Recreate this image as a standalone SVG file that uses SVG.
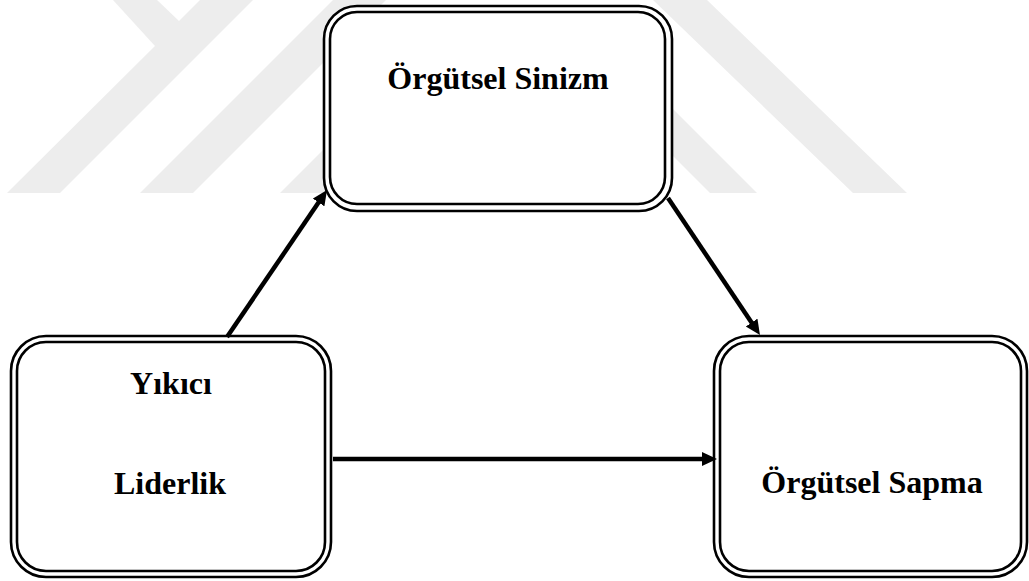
<svg xmlns="http://www.w3.org/2000/svg" width="1029" height="581" viewBox="0 0 1029 581">
  <style>
    .wm { fill: #ededed; }
    .outer, .inner { fill: none; stroke: #000; stroke-width: 2.6; }
    .bg { fill: #fff; }
    .lbl { font-family: "Liberation Serif", "Times New Roman", serif; font-weight: bold; font-size: 32px; fill: #000; text-anchor: middle; }
    .conn { stroke: #000; stroke-width: 4.5; fill: none; marker-end: url(#arrow); }
  </style>
  <defs>
    <marker id="arrow" markerUnits="userSpaceOnUse" markerWidth="16" markerHeight="15" refX="5" refY="7" orient="auto">
      <path d="M0,0 L15,7 L0,14 z" fill="#000"/>
    </marker>
  </defs>
  <rect width="1029" height="581" fill="#fff"/>
  <g id="watermark">
    <polygon class="wm" points="113,0 157,0 179,21 200,0 253,0 60,193 7,193 155,46"/>
    <polygon class="wm" points="333,0 386,0 193,193 140,193"/>
    <polygon class="wm" points="420,53 480,53 337,193 280,193"/>
    <polygon class="wm" points="653,0 707,0 907,193 853,193"/>
    <polygon class="wm" points="577,60 624,60 757,193 710,193"/>
  </g>
  <g id="node-sinizm">
    <rect class="bg" x="324" y="6" width="348" height="205" rx="33"/>
    <rect class="outer" x="324" y="6" width="348" height="205" rx="33"/>
    <rect class="inner" x="330" y="12" width="335" height="192" rx="27"/>
    <text class="lbl" x="498" y="89">Örgütsel Sinizm</text>
  </g>
  <g id="node-yikici">
    <rect class="bg" x="11" y="336" width="320" height="241" rx="35"/>
    <rect class="outer" x="11" y="336" width="320" height="241" rx="35"/>
    <rect class="inner" x="17" y="342" width="308" height="229" rx="29"/>
    <text class="lbl" x="171" y="394">Yıkıcı</text>
    <text class="lbl" x="170" y="494">Liderlik</text>
  </g>
  <g id="node-sapma">
    <rect class="bg" x="714" y="336" width="313" height="241" rx="35"/>
    <rect class="outer" x="714" y="336" width="313" height="241" rx="35"/>
    <rect class="inner" x="720" y="342" width="301" height="229" rx="29"/>
    <text class="lbl" x="872" y="493">Örgütsel Sapma</text>
  </g>
  <g id="connectors">
    <line class="conn" x1="227" y1="337" x2="321.4" y2="198.3"/>
    <line class="conn" x1="668" y1="198" x2="754.4" y2="326.7"/>
    <line class="conn" x1="333" y1="459" x2="707" y2="459"/>
  </g>
</svg>
